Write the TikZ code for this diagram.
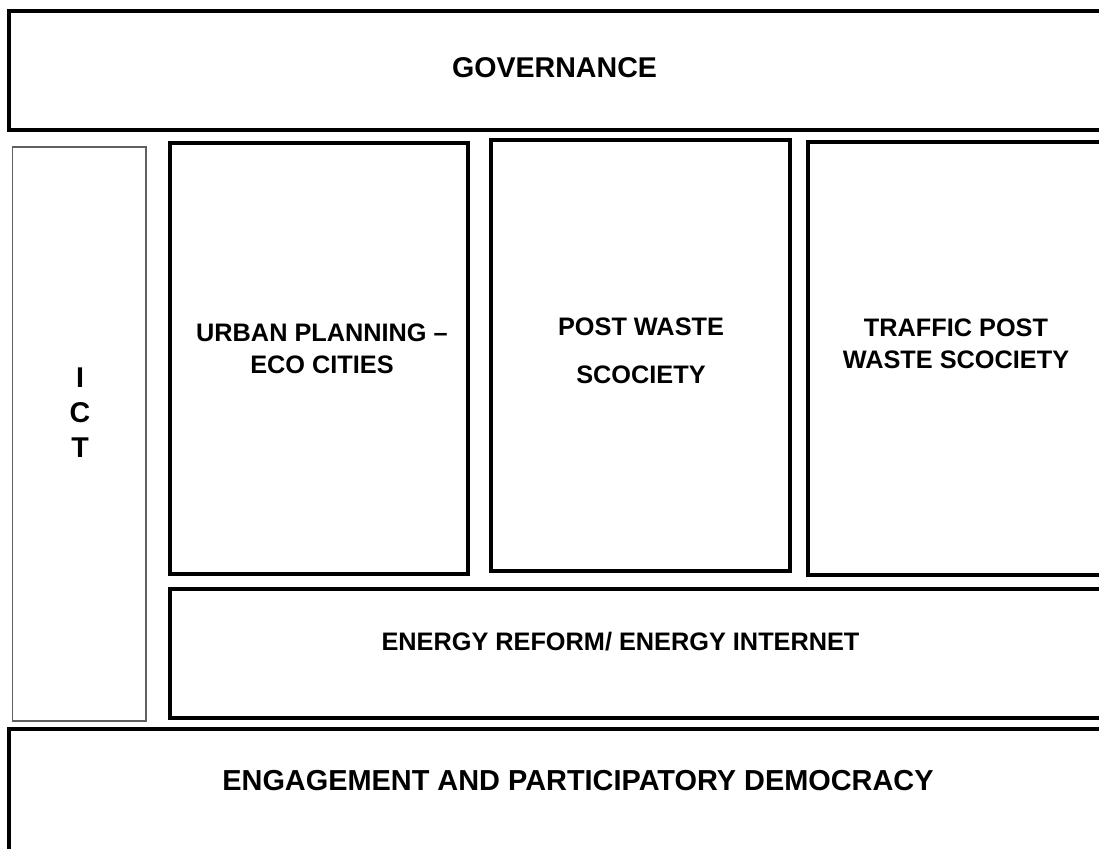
\documentclass[tikz,border=0pt]{standalone}
\usepackage{fontspec}
\setmainfont{Liberation Sans}
\usetikzlibrary{positioning, fit}

\begin{document}
\begin{tikzpicture}[x=0.5pt,y=-0.5pt,
    block/.style={draw=black,line width=2pt,inner sep=0pt},
    sidebar/.style={draw=gray!75!black,line width=0.6pt,inner sep=0pt},
    heading/.style={font=\fontsize{14.3}{16}\selectfont\bfseries,
                    align=center,inner sep=0pt,anchor=north},
    inner/.style={heading,font=\fontsize{12.65}{16}\selectfont\bfseries}
  ]
    \useasboundingbox (0,0) rectangle (1099,849);
    \clip (0,0) rectangle (1099,849);
    % frame of the layers
    \node[block, fit={(9,11) (1112,130)}] (gov) {};
    \node[sidebar, fit={(12.5,147) (146,721)}] (ict) {};
    \node[block, fit={(169.5,143) (467.5,574)}] (urban) {};
    \node[block, fit={(491,140) (790,571)}] (waste) {};
    \node[block, fit={(808,142.5) (1106,575)}] (traffic) {};
    \node[block, fit={(169.5,589) (1112,718)}] (energy) {};
    \node[block, fit={(9,729) (1112,870)}] (engage) {};
    % texts
    \node[heading] (govtxt) at (554.5,57) {GOVERNANCE};
    \node[heading,font=\fontsize{14.3}{17.5}\selectfont\bfseries] (icttxt) at (80,367) {I\\C\\T};
    \node[inner] (urbantxt) at (322,323) {URBAN PLANNING --\\ECO CITIES};
    \node[inner,font=\fontsize{12.65}{24}\selectfont\bfseries] (wastetxt) at (641,317) {POST WASTE\\SCOCIETY};
    \node[inner] (traffictxt) at (956,318) {TRAFFIC POST\\WASTE SCOCIETY};
    \node[inner] (energytxt) at (620.5,632) {ENERGY REFORM/ ENERGY INTERNET};
    \node[heading,font=\fontsize{14.45}{16}\selectfont\bfseries] (engagetxt) at (578,770) {ENGAGEMENT AND PARTICIPATORY DEMOCRACY};
\end{tikzpicture}
\end{document}
